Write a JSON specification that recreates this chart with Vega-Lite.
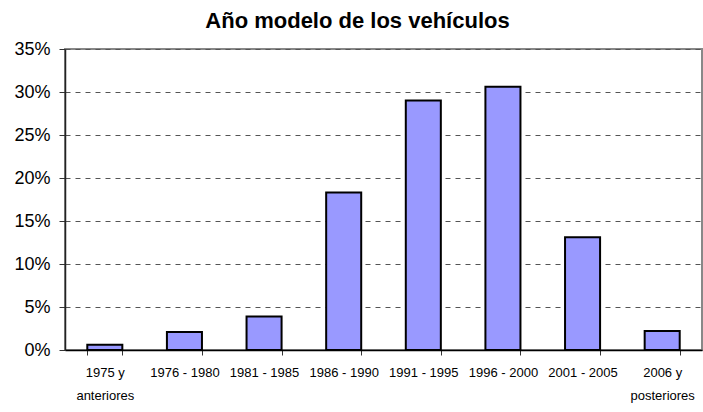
{
  "$schema": "https://vega.github.io/schema/vega-lite/v6.json",
  "width": 637,
  "height": 301,
  "autosize": {"type": "none"},
  "padding": {"left": 65, "top": 49, "right": 1, "bottom": 62},
  "background": "white",
  "title": {
    "text": "Año modelo de los vehículos",
    "anchor": "middle",
    "font": "Liberation Sans",
    "fontSize": 22,
    "fontWeight": "bold",
    "color": "black",
    "baseline": "alphabetic",
    "offset": 18,
    "dy": 28,
    "dx": -26
  },
  "data": {
    "values": [
      {"modelo": "1975 y anteriores", "porcentaje": 0.006},
      {"modelo": "1976 - 1980", "porcentaje": 0.021},
      {"modelo": "1981 - 1985", "porcentaje": 0.039},
      {"modelo": "1986 - 1990", "porcentaje": 0.183},
      {"modelo": "1991 - 1995", "porcentaje": 0.290},
      {"modelo": "1996 - 2000", "porcentaje": 0.306},
      {"modelo": "2001 - 2005", "porcentaje": 0.131},
      {"modelo": "2006 y posteriores", "porcentaje": 0.022}
    ]
  },
  "mark": {"type": "bar", "color": "#9999FF", "stroke": "black", "strokeWidth": 2},
  "encoding": {
    "x": {
      "field": "modelo",
      "type": "nominal",
      "sort": null,
      "scale": {"paddingInner": 0.56, "paddingOuter": 0.28},
      "axis": {
        "title": null,
        "labelAngle": 0,
        "labelFont": "Liberation Sans",
        "labelFontSize": 13,
        "labelColor": "black",
        "labelLineHeight": 23,
        "labelPadding": 11,
        "labelBaseline": "top",
        "labelExpr": "indexof(datum.label, ' y ') > 0 ? [slice(datum.label, 0, 6), slice(datum.label, 7)] : datum.label",
        "tickBand": "extent",
        "tickColor": "#333333",
        "tickSize": 5,
        "domainColor": "black",
        "domainWidth": 1.5,
        "grid": false
      }
    },
    "y": {
      "field": "porcentaje",
      "type": "quantitative",
      "scale": {"domain": [0, 0.35], "nice": false},
      "axis": {
        "title": null,
        "format": ".0%",
        "values": [0, 0.05, 0.1, 0.15, 0.2, 0.25, 0.3, 0.35],
        "labelFont": "Liberation Sans",
        "labelFontSize": 18,
        "labelColor": "black",
        "labelPadding": 9,
        "tickColor": "#333333",
        "tickSize": 6,
        "domainColor": "#222222",
        "domainWidth": 1.5,
        "grid": true,
        "gridColor": "#555555",
        "gridDash": [5, 5],
        "gridWidth": 1
      }
    }
  },
  "config": {
    "view": {"stroke": "#888888", "strokeWidth": 2},
    "font": "Liberation Sans"
  }
}
